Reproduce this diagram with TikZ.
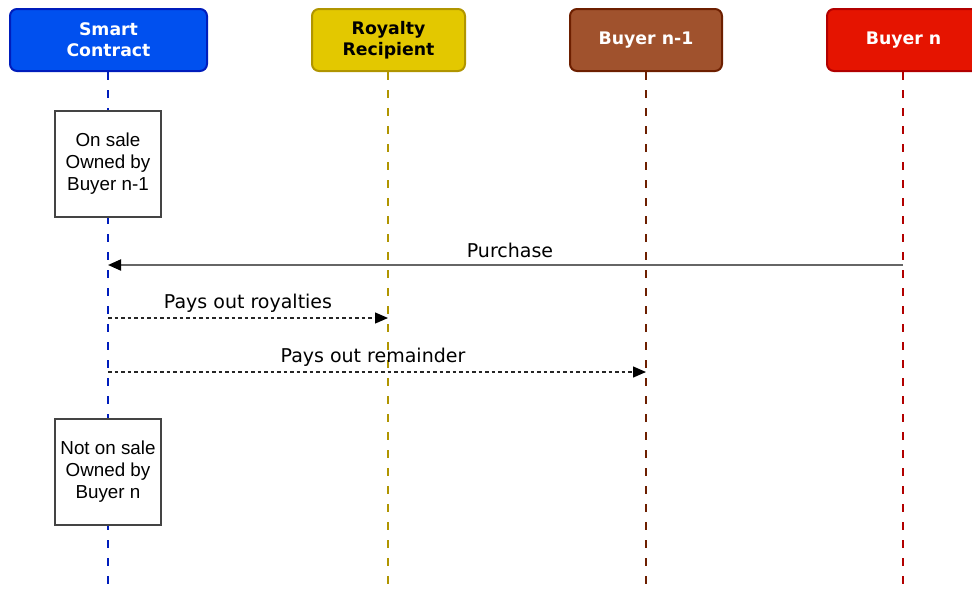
\documentclass[tikz,border=0pt]{standalone}
\usepackage{fontspec}
\setmainfont{Liberation Sans}
\newfontfamily\verd{DejaVu Sans}
\usetikzlibrary{arrows.meta}
\definecolor{scfill}{HTML}{0050EF}
\definecolor{scline}{HTML}{001DBC}
\definecolor{rrfill}{HTML}{E3C800}
\definecolor{rrline}{HTML}{B09500}
\definecolor{bpfill}{HTML}{A0522D}
\definecolor{bpline}{HTML}{6D1F00}
\definecolor{bnfill}{HTML}{E51400}
\definecolor{bnline}{HTML}{B20000}
\definecolor{msggray}{HTML}{666666}
\definecolor{boxline}{HTML}{444444}
\begin{document}
\begin{tikzpicture}[x=1pt,y=-1pt,
  header/.style={draw, line width=2pt, rounded corners=7pt, minimum height=62pt,
    inner sep=0pt, align=center, font=\verd\bfseries\fontsize{17.3}{21}\selectfont},
  lifeline/.style={line width=2.4pt, dash pattern=on 8pt off 10pt},
  statebox/.style={draw=boxline, line width=1.5pt, fill=white, minimum width=106pt,
    minimum height=106pt, inner sep=0pt, align=center, font=\fontsize{18.8}{22}\selectfont},
  msglabel/.style={font=\verd\fontsize{19}{22}\selectfont, inner sep=0pt},
  tip/.style={-{Triangle[length=13pt,width=11pt,black]}},
  reply/.style={black!85, line width=1.3pt, dash pattern=on 3.5pt off 3pt, tip}
]
\useasboundingbox (0,0) rectangle (972,590);
\clip (0,0) rectangle (972,590);

% headers
\node[header, fill=scfill, draw=scline, text=white, minimum width=197pt] (sc) at (108.5,40) {Smart\\Contract};
\node[header, fill=rrfill, draw=rrline, text=black, minimum width=153pt] (rr) at (388.5,40) {Royalty\\Recipient};
\node[header, fill=bpfill, draw=bpline, text=white, minimum width=152pt] (bp) at (646,40) {Buyer n-1};
\node[header, fill=bnfill, draw=bnline, text=white, minimum width=153pt] (bn) at (903.5,40) {Buyer n};

% lifeline ends
\coordinate (scend) at (108,592);
\coordinate (rrend) at (388,592);
\coordinate (bpend) at (646,592);
\coordinate (bnend) at (903,592);

\draw[lifeline, scline] (sc.south -| scend) -- (scend);
\draw[lifeline, rrline] (rr.south -| rrend) -- (rrend);
\draw[lifeline, bpline] (bp.south -| bpend) -- (bpend);
\draw[lifeline, bnline] (bn.south -| bnend) -- (bnend);

% state boxes
\node[statebox] (s1) at (108,164) {On sale\\Owned by\\Buyer n-1};
\node[statebox] (s2) at (108,472) {Not on sale\\Owned by\\Buyer n};

% message points
\coordinate (pbn) at (903,265);
\coordinate (psc) at (108,265);
\coordinate (rsc) at (108,318);
\coordinate (rrr) at (388,318);
\coordinate (msc) at (108,372);
\coordinate (mbp) at (646,372);

\draw[msggray, line width=2pt, tip] (pbn) -- (psc);
\draw[reply] (rsc) -- (rrr);
\draw[reply] (msc) -- (mbp);

\node[msglabel] (l1) at (510,250) {Purchase};
\node[msglabel] (l2) at (248,303) {Pays out royalties};
\node[msglabel] (l3) at (373,357) {Pays out remainder};
\end{tikzpicture}
\end{document}
